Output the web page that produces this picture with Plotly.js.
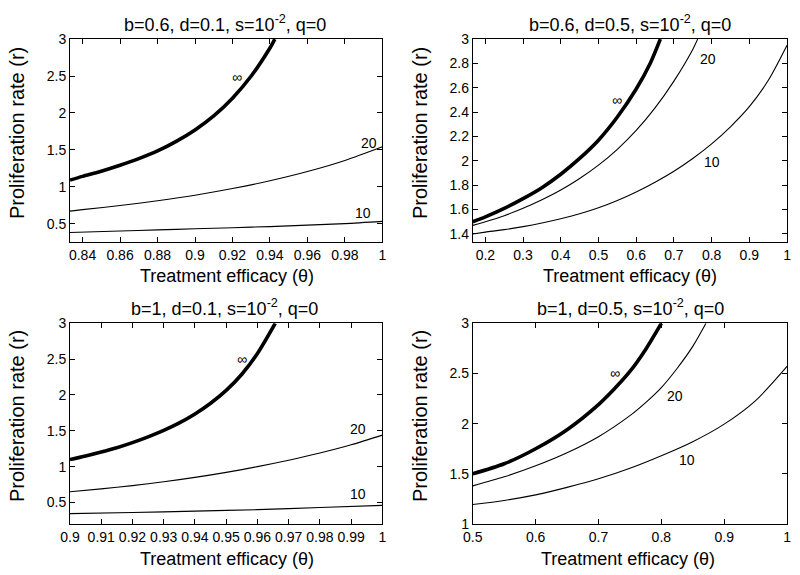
<!DOCTYPE html>
<html>
<head>
<meta charset="utf-8">
<script src="https://cdn.plot.ly/plotly-3.0.1.min.js"></script>
<style>
  body { margin: 0; background: #fff; }
  #chart { width: 800px; height: 575px; }
</style>
</head>
<body>
<div id="chart"></div>
<script>
// panel A: b=0.6, d=0.1
var thetaInfA = [0.8333, 0.84, 0.85, 0.86, 0.87, 0.88, 0.89, 0.9, 0.91, 0.92, 0.93, 0.94, 0.9426];
var rInfA = [1.09, 1.14, 1.21, 1.29, 1.38, 1.485, 1.615, 1.77, 1.96, 2.2, 2.5, 2.88, 3.0];
var theta20A = [0.8333, 0.84, 0.86, 0.88, 0.9, 0.92, 0.94, 0.96, 0.98, 1.0];
var r20A = [0.67, 0.69, 0.745, 0.81, 0.885, 0.975, 1.08, 1.205, 1.355, 1.54];
var theta10A = [0.8333, 0.86, 0.88, 0.9, 0.92, 0.94, 0.96, 0.98, 1.0];
var r10A = [0.38, 0.40, 0.415, 0.43, 0.445, 0.46, 0.48, 0.50, 0.53];

// panel B: b=0.6, d=0.5
var thetaInfB = [0.1667, 0.2, 0.25, 0.3, 0.35, 0.4, 0.45, 0.5, 0.55, 0.6, 0.637, 0.664];
var rInfB = [1.50, 1.54, 1.61, 1.69, 1.78, 1.89, 2.02, 2.17, 2.36, 2.59, 2.80, 3.0];
var theta20B = [0.1667, 0.2, 0.25, 0.3, 0.35, 0.4, 0.45, 0.5, 0.55, 0.6, 0.65, 0.7, 0.75, 0.763];
var r20B = [1.47, 1.50, 1.55, 1.61, 1.68, 1.76, 1.855, 1.965, 2.095, 2.25, 2.435, 2.655, 2.915, 3.0];
var theta10B = [0.1667, 0.2, 0.25, 0.3, 0.35, 0.4, 0.45, 0.5, 0.55, 0.6, 0.65, 0.7, 0.75, 0.8, 0.85, 0.9, 0.95, 1.0];
var r10B = [1.40, 1.415, 1.435, 1.46, 1.49, 1.525, 1.565, 1.615, 1.675, 1.745, 1.825, 1.915, 2.02, 2.14, 2.28, 2.445, 2.66, 2.95];

// panel C: b=1, d=0.1
var thetaInfC = [0.9, 0.905, 0.91, 0.915, 0.92, 0.925, 0.93, 0.935, 0.94, 0.945, 0.95, 0.955, 0.96, 0.9657];
var rInfC = [1.10, 1.15, 1.205, 1.265, 1.335, 1.415, 1.505, 1.61, 1.735, 1.885, 2.065, 2.29, 2.58, 3.0];
var theta20C = [0.9, 0.91, 0.92, 0.93, 0.94, 0.95, 0.96, 0.97, 0.98, 0.99, 1.0];
var r20C = [0.65, 0.69, 0.735, 0.79, 0.85, 0.92, 1.0, 1.09, 1.19, 1.305, 1.44];
var theta10C = [0.9, 0.92, 0.94, 0.96, 0.98, 1.0];
var r10C = [0.345, 0.36, 0.38, 0.40, 0.43, 0.46];

// panel D: b=1, d=0.5
var thetaInfD = [0.5, 0.55, 0.6, 0.65, 0.7, 0.725, 0.75, 0.775, 0.8];
var rInfD = [1.50, 1.60, 1.75, 1.94, 2.19, 2.345, 2.52, 2.74, 3.0];
var theta20D = [0.5, 0.55, 0.6, 0.65, 0.7, 0.75, 0.775, 0.8, 0.825, 0.85, 0.871];
var r20D = [1.38, 1.47, 1.58, 1.71, 1.87, 2.08, 2.21, 2.36, 2.55, 2.77, 3.0];
var theta10D = [0.5, 0.55, 0.6, 0.65, 0.7, 0.75, 0.8, 0.85, 0.9, 0.95, 1.0];
var r10D = [1.195, 1.235, 1.29, 1.365, 1.45, 1.555, 1.68, 1.82, 1.995, 2.23, 2.57];

var panelTitles = [
  'b=0.6, d=0.1, s=10<sup>-2</sup>, q=0',
  'b=0.6, d=0.5, s=10<sup>-2</sup>, q=0',
  'b=1, d=0.1, s=10<sup>-2</sup>, q=0',
  'b=1, d=0.5, s=10<sup>-2</sup>, q=0'
];
var curveLabels = ['\u221E', '20', '10'];
var xTitle = 'Treatment efficacy (\u03B8)';
var yTitle = 'Proliferation rate (r)';

var font = 'Liberation Sans, Arial, sans-serif';

function curve(x, y, ax, thick) {
  return {
    x: x, y: y,
    xaxis: 'x' + ax, yaxis: 'y' + ax,
    mode: 'lines',
    line: {color: '#000', width: thick ? 3.6 : 1.1, shape: 'spline', smoothing: 0.8},
    hoverinfo: 'skip',
    showlegend: false
  };
}

var data = [
  curve(thetaInfA, rInfA, '', true), curve(theta20A, r20A, '', false), curve(theta10A, r10A, '', false),
  curve(thetaInfB, rInfB, '2', true), curve(theta20B, r20B, '2', false), curve(theta10B, r10B, '2', false),
  curve(thetaInfC, rInfC, '3', true), curve(theta20C, r20C, '3', false), curve(theta10C, r10C, '3', false),
  curve(thetaInfD, rInfD, '4', true), curve(theta20D, r20D, '4', false), curve(theta10D, r10D, '4', false)
];

function axis(domain, range, dtick, anchor) {
  return {
    domain: domain, range: range, dtick: dtick, tick0: 0, anchor: anchor,
    showgrid: false, zeroline: false,
    showline: true, linecolor: '#000', linewidth: 1, mirror: 'ticks',
    ticks: 'inside', ticklen: 5, tickcolor: '#000',
    tickfont: {size: 14, color: '#000'}
  };
}

var colL = [0.0875, 0.478], colR = [0.591, 0.9838];
var rowT = [0.579, 0.932], rowB = [0.0887, 0.4377];

function label(text, ax, x, y) {
  return {text: text, xref: 'x' + ax, yref: 'y' + ax, x: x, y: y,
    showarrow: false, font: {size: 14, color: '#000'}};
}
function ptext(text, x, y, size, angle) {
  return {text: text, xref: 'paper', yref: 'paper', x: x / 800, y: 1 - y / 575,
    xanchor: 'center', yanchor: 'middle', showarrow: false, textangle: angle || 0,
    font: {size: size, color: '#000'}};
}

var layout = {
  width: 800, height: 575,
  margin: {l: 0, r: 0, t: 0, b: 0},
  paper_bgcolor: '#fff', plot_bgcolor: '#fff',
  font: {family: font, color: '#000'},
  xaxis: axis(colL, [0.8333, 1], 0.02, 'y'),
  yaxis: axis(rowT, [0.25, 3], 0.5, 'x'),
  xaxis2: axis(colR, [0.1667, 1], 0.1, 'y2'),
  yaxis2: axis(rowT, [1.333, 3], 0.2, 'x2'),
  xaxis3: axis(colL, [0.9, 1], 0.01, 'y3'),
  yaxis3: axis(rowB, [0.2, 3], 0.5, 'x3'),
  xaxis4: axis(colR, [0.5, 1], 0.1, 'y4'),
  yaxis4: axis(rowB, [1, 3], 0.5, 'x4'),
  annotations: [
    ptext(panelTitles[0], 225, 23, 18),
    ptext(panelTitles[1], 630, 23, 18),
    ptext(panelTitles[2], 224, 307, 18),
    ptext(panelTitles[3], 630, 307, 18),
    ptext(xTitle, 227, 276, 18),
    ptext(xTitle, 630, 276, 18),
    ptext(xTitle, 227, 559, 18),
    ptext(xTitle, 628, 559, 18),
    ptext(yTitle, 17, 133, 20, -90),
    ptext(yTitle, 420, 133, 20, -90),
    ptext(yTitle, 17, 416, 20, -90),
    ptext(yTitle, 420, 416, 20, -90),
    label(curveLabels[0], '', 0.9224, 2.49),
    label(curveLabels[1], '', 0.993, 1.59),
    label(curveLabels[2], '', 0.9895, 0.64),
    label(curveLabels[0], '2', 0.55, 2.50),
    label(curveLabels[1], '2', 0.791, 2.84),
    label(curveLabels[2], '2', 0.80, 1.99),
    label(curveLabels[0], '3', 0.955, 2.50),
    label(curveLabels[1], '3', 0.9923, 1.52),
    label(curveLabels[2], '3', 0.9923, 0.62),
    label(curveLabels[0], '4', 0.7265, 2.50),
    label(curveLabels[1], '4', 0.8225, 2.28),
    label(curveLabels[2], '4', 0.841, 1.64)
  ]
};

Plotly.newPlot('chart', data, layout, {displayModeBar: false, staticPlot: true});
</script>
</body>
</html>
